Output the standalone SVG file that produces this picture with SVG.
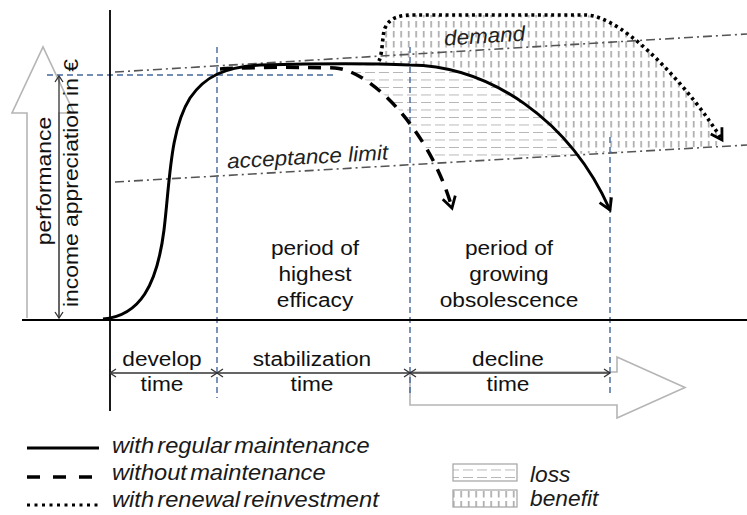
<svg xmlns="http://www.w3.org/2000/svg" width="747" height="515" viewBox="0 0 747 515">
  <style>
    .lbl { font-family: "Liberation Sans", Arial, sans-serif; font-size: 21px; fill: #111; text-anchor: middle; }
    .it { font-family: "Liberation Sans", Arial, sans-serif; font-size: 21px; font-style: italic; fill: #222; }
    .leg { font-family: "Liberation Sans", Arial, sans-serif; font-size: 21.5px; font-style: italic; fill: #1a1a1a; }
    .axis { stroke: #000; stroke-width: 1.8; fill: none; }
    .guide { stroke: #44679c; stroke-width: 1.4; stroke-dasharray: 6 4; fill: none; }
    .limit { stroke: #555; stroke-width: 1.6; stroke-dasharray: 9 4 2 4; fill: none; }
    .hollow { stroke: #b5b5b5; stroke-width: 1.6; fill: none; }
    .span { stroke: #333; stroke-width: 1.3; fill: none; }
    .solid { stroke: #000; stroke-width: 3; fill: none; }
    .dashed { stroke: #000; stroke-width: 3.5; fill: none; stroke-dasharray: 13 9; }
    .dotted { stroke: #000; stroke-width: 3.6; fill: none; stroke-dasharray: 3 3.6; }
  </style>
  <defs>
    <pattern id="hatchLoss" patternUnits="userSpaceOnUse" x="0" y="4.5" width="14" height="7.5">
      <line x1="1" y1="0" x2="11" y2="0" stroke="#9a9a9a" stroke-width="1.4"/>
    </pattern>
    <pattern id="hatchBenefit" patternUnits="userSpaceOnUse" x="0" y="0" width="7.5" height="10">
      <line x1="3.7" y1="1" x2="3.7" y2="7.5" stroke="#9a9a9a" stroke-width="1.4"/>
    </pattern>
    <clipPath id="aboveLimit">
      <polygon points="0,0 747,0 747,144 0,187.7"/>
    </clipPath>
    <marker id="headBig" markerUnits="userSpaceOnUse" markerWidth="24" markerHeight="24" refX="0" refY="0" viewBox="-14 -12 16 24" orient="auto">
      <path d="M-11,-6.5 L0,0 L-11,6.5" fill="none" stroke="#000" stroke-width="2.8" stroke-dasharray="none"/>
    </marker>
    <marker id="headSmall" markerUnits="userSpaceOnUse" markerWidth="12" markerHeight="12" refX="0" refY="0" viewBox="-8 -6 10 12" orient="auto-start-reverse">
      <path d="M-6,-4 L0,0 L-6,4" fill="none" stroke="#333" stroke-width="1.3"/>
    </marker>
  </defs>

  <!-- hatched areas: loss between the two decline curves, benefit under the renewal curve -->
  <g id="areas" clip-path="url(#aboveLimit)">
    <path id="loss-area" fill="url(#hatchLoss)" d="M335,68 C370,70 430,130 452,208 L610,210 C570,120 490,66 410,65 C390,64 360,64 335,68 Z"/>
    <path id="benefit-area" fill="url(#hatchBenefit)" d="M379,63 C383,52 382,35 385,28 C390,17 400,15 415,15 L585,15 C625,15 695,95 722,140 L722,160 L610,210 C570,120 490,66 410,65 C400,64 390,63 379,63 Z"/>
  </g>

  <!-- hollow background arrows -->
  <g id="arrow-up">
    <path class="hollow" d="M27,318 L27,113 L12,113 L43,47 L74,113 L59,113 L59,318"/>
  </g>
  <g id="arrow-right">
    <path class="hollow" d="M410,372 L617,372 L617,357 L685,387.5 L617,418 L617,405 L410,405 Z"/>
  </g>

  <!-- demand and acceptance limit -->
  <g id="demand-line">
    <line class="limit" x1="115" y1="72" x2="747" y2="34"/>
    <text class="it" transform="translate(485,43) rotate(-3.4) scale(1.07,1)" text-anchor="middle">demand</text>
  </g>
  <g id="acceptance-line">
    <line class="limit" x1="115" y1="182" x2="747" y2="145"/>
    <text class="it" transform="translate(308,164) rotate(-3.2) scale(1.07,1)" text-anchor="middle">acceptance limit</text>
  </g>

  <!-- phase boundaries -->
  <g id="guides">
    <line class="guide" x1="47" y1="75" x2="335" y2="75"/>
    <line class="guide" x1="217" y1="47" x2="217" y2="398"/>
    <line class="guide" x1="410" y1="47" x2="410" y2="396"/>
    <line class="guide" x1="610" y1="137" x2="610" y2="396"/>
  </g>

  <!-- axes -->
  <g id="axes">
    <line class="axis" x1="110" y1="10" x2="110" y2="411"/>
    <line class="axis" x1="22" y1="320" x2="747" y2="320"/>
  </g>

  <!-- performance curves -->
  <g id="connectors">
    <path id="curve-renewal" class="dotted" marker-end="url(#headBig)" d="M379,61 C383,52 382,35 385,28 C390,17 400,15 415,15 L585,15 C625,15 695,95 722,140"/>
    <path id="curve-no-maintenance" class="dashed" marker-end="url(#headBig)" d="M220,69 C250,67 300,67 335,68 C370,70 430,130 452,208"/>
    <path id="curve-regular" class="solid" marker-end="url(#headBig)" d="M103,319 C140,316 157,285 164,230 C170,180 170,130 190,98 C205,76 225,67 260,65 C330,63 390,64 410,65 C490,66 570,120 610,210"/>
    <line class="span" x1="59" y1="76" x2="59" y2="318" marker-start="url(#headSmall)" marker-end="url(#headSmall)"/>
    <line class="span" x1="110" y1="373" x2="217" y2="373" marker-start="url(#headSmall)" marker-end="url(#headSmall)"/>
    <line class="span" x1="217" y1="373" x2="410" y2="373" marker-start="url(#headSmall)" marker-end="url(#headSmall)"/>
    <line class="span" x1="410" y1="373" x2="610" y2="373" marker-start="url(#headSmall)" marker-end="url(#headSmall)"/>
  </g>

  <!-- axis titles -->
  <g id="axis-titles">
    <text class="lbl" transform="translate(51,181) rotate(-90) scale(1.09,1)">performance</text>
    <text class="lbl" transform="translate(78,183) rotate(-90) scale(1.09,1)">income appreciation in €</text>
  </g>

  <!-- period labels -->
  <g id="period-efficacy">
    <text class="lbl" transform="translate(315,255) scale(1.08,1)">period of</text>
    <text class="lbl" transform="translate(315,281) scale(1.08,1)">highest</text>
    <text class="lbl" transform="translate(315,307) scale(1.08,1)">efficacy</text>
  </g>
  <g id="period-obsolescence">
    <text class="lbl" transform="translate(509,255) scale(1.08,1)">period of</text>
    <text class="lbl" transform="translate(509,281) scale(1.08,1)">growing</text>
    <text class="lbl" transform="translate(509,307) scale(1.08,1)">obsolescence</text>
  </g>

  <!-- time spans -->
  <g id="span-develop">
    <text class="lbl" transform="translate(162,366) scale(1.08,1)">develop</text>
    <text class="lbl" transform="translate(162,391) scale(1.08,1)">time</text>
  </g>
  <g id="span-stabilization">
    <text class="lbl" transform="translate(312,366) scale(1.08,1)">stabilization</text>
    <text class="lbl" transform="translate(312,391) scale(1.08,1)">time</text>
  </g>
  <g id="span-decline">
    <text class="lbl" transform="translate(508,366) scale(1.08,1)">decline</text>
    <text class="lbl" transform="translate(508,391) scale(1.08,1)">time</text>
  </g>

  <!-- legend -->
  <g id="legend-regular">
    <line x1="27" y1="448" x2="99" y2="448" stroke="#000" stroke-width="3"/>
    <text class="leg" transform="translate(112,453) scale(1.1,1)" word-spacing="-3">with regular maintenance</text>
  </g>
  <g id="legend-without">
    <line x1="27" y1="477" x2="99" y2="477" stroke="#000" stroke-width="3.5" stroke-dasharray="13 13"/>
    <text class="leg" transform="translate(112,480) scale(1.1,1)" word-spacing="-3">without maintenance</text>
  </g>
  <g id="legend-renewal">
    <line x1="27" y1="505" x2="99" y2="505" stroke="#000" stroke-width="3.2" stroke-dasharray="3 4.5"/>
    <text class="leg" transform="translate(112,507) scale(1.1,1)" word-spacing="-3">with renewal reinvestment</text>
  </g>
  <g id="legend-loss">
    <rect x="453" y="464" width="64" height="17" fill="url(#hatchLoss)" stroke="#aaa" stroke-width="1.3"/>
    <text class="leg" transform="translate(530,482) scale(1.06,1)">loss</text>
  </g>
  <g id="legend-benefit">
    <rect x="453" y="490" width="64" height="17" fill="url(#hatchBenefit)" stroke="#aaa" stroke-width="1.3"/>
    <text class="leg" transform="translate(530,506) scale(1.06,1)">benefit</text>
  </g>
</svg>
